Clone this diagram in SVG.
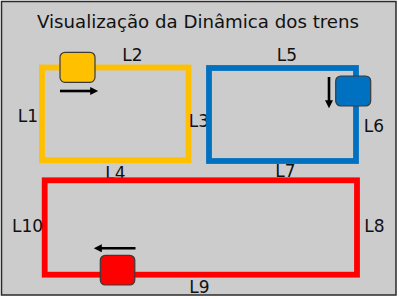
<svg xmlns="http://www.w3.org/2000/svg" width="399" height="299" viewBox="0 0 399 299">
  <style>
    .track { fill: none; stroke-width: 5.8; stroke-linejoin: miter; }
    .train { stroke: #3a3a3a; stroke-width: 1.2; }
    .lbl { font-family: "DejaVu Sans", "Liberation Sans", sans-serif; font-size: 17px; fill: #111; text-anchor: middle; }
    .title { font-family: "DejaVu Sans", "Liberation Sans", sans-serif; font-size: 18px; fill: #111; text-anchor: middle; }
    .dir { stroke: #000; stroke-width: 2.6; fill: none; }
  </style>
  <defs>
    <marker id="head" viewBox="0 0 10 10" refX="1" refY="5" markerWidth="9" markerHeight="8" markerUnits="userSpaceOnUse" orient="auto">
      <path d="M0,0 L10,5 L0,10 Z" fill="#000"/>
    </marker>
  </defs>

  <!-- panel -->
  <rect x="1.5" y="1.5" width="394.5" height="293.5" fill="#cccccc" stroke="#2a2a2a" stroke-width="1.5"/>
  <text class="title" x="198" y="28" textLength="322" lengthAdjust="spacingAndGlyphs">Visualização da Dinâmica dos trens</text>

  <!-- yellow loop -->
  <g id="loop-yellow">
    <rect class="track" x="42" y="67.5" width="146.5" height="92.8" stroke="#ffc000"/>
    <text class="lbl" x="28" y="121.5">L1</text>
    <text class="lbl" x="132.5" y="61">L2</text>
    <text class="lbl" x="199" y="126.5">L3</text>
    <text class="lbl" x="115.5" y="179">L4</text>
  </g>

  <!-- blue loop -->
  <g id="loop-blue">
    <rect class="track" x="209" y="68" width="147" height="93" stroke="#0070c0"/>
    <text class="lbl" x="287" y="61">L5</text>
    <text class="lbl" x="374" y="131.5">L6</text>
    <text class="lbl" x="285.5" y="177">L7</text>
  </g>

  <!-- red loop -->
  <g id="loop-red">
    <rect class="track" x="44.7" y="180.3" width="312.3" height="94.4" stroke="#ff0000"/>
    <text class="lbl" x="374.5" y="231.5">L8</text>
    <text class="lbl" x="199.5" y="293">L9</text>
    <text class="lbl" x="27.5" y="232">L10</text>
  </g>

  <!-- trains -->
  <g id="train-yellow">
    <rect class="train" x="60" y="52.3" width="35" height="30" rx="5" fill="#ffc000"/>
  </g>
  <g id="train-blue">
    <rect class="train" x="335.7" y="76" width="35" height="30" rx="5" fill="#0070c0"/>
  </g>
  <g id="train-red">
    <rect class="train" x="100.3" y="255.3" width="34.5" height="29.7" rx="5" fill="#ff0000"/>
  </g>

  <!-- direction arrows -->
  <g id="connectors">
    <line class="dir" x1="60" y1="91" x2="91" y2="91" marker-end="url(#head)"/>
    <line class="dir" x1="329" y1="77" x2="329" y2="101" marker-end="url(#head)"/>
    <line class="dir" x1="135.5" y1="248.3" x2="101" y2="248.3" marker-end="url(#head)"/>
  </g>
</svg>
